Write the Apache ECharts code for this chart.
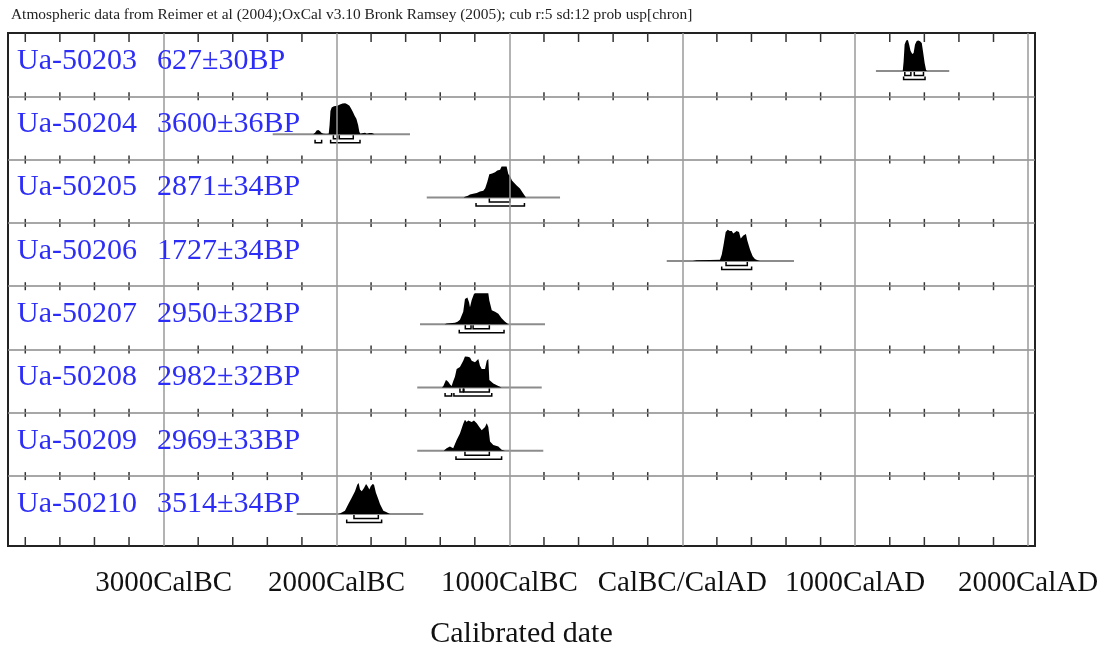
<!DOCTYPE html>
<html>
<head>
<meta charset="utf-8">
<title>OxCal multiplot</title>
<script src="https://cdn.jsdelivr.net/npm/echarts/dist/echarts.min.js"></script>
<style>
  html, body { margin: 0; padding: 0; background: #fff; }
  #oxcal { width: 1109px; height: 649px; }
</style>
</head>
<body>
<div id="oxcal"></div>
<script>
// sample labels
var labIds = ['Ua-50203', 'Ua-50204', 'Ua-50205', 'Ua-50206', 'Ua-50207', 'Ua-50208', 'Ua-50209', 'Ua-50210'];
var bpAges = [627, 3600, 2871, 1727, 2950, 2982, 2969, 3514];
var bpErrors = [30, 36, 34, 34, 32, 32, 33, 34];

// x axis ticks (calendar years, BC negative)
var majorYears = [-3000, -2000, -1000, 0, 1000, 2000];
var majorLabels = ['3000CalBC', '2000CalBC', '1000CalBC', 'CalBC/CalAD', '1000CalAD', '2000CalAD'];

// grey line under each distribution
var plotRanges = [[1120, 1544], [-2369, -1575], [-1478, -707], [-90, 646], [-1517, -794], [-1533, -813], [-1533, -804], [-2230, -1498]];

// 68.2% and 95.4% ranges
var range68 = [
  [[1287, 1322], [1342, 1395]],
  [[-2018, -1995], [-1984, -1903]],
  [[-1116, -997]],
  [[253, 376]],
  [[-1255, -1222], [-1210, -1116]],
  [[-1286, -1267], [-1263, -1116]],
  [[-1257, -1116]],
  [[-1899, -1758]]
];
var range95 = [
  [[1280, 1404]],
  [[-2124, -2086], [-2034, -1864]],
  [[-1193, -913]],
  [[228, 401]],
  [[-1290, -1031]],
  [[-1372, -1334], [-1321, -1102]],
  [[-1309, -1045]],
  [[-1941, -1739]]
];

// probability distributions, [year, relative probability]
var dist50203 = [[1275, 0], [1280, 0.3], [1286, 0.85], [1295, 0.98], [1305, 1.0], [1312, 0.85], [1320, 0.65], [1330, 0.55], [1338, 0.58], [1346, 0.85], [1356, 0.97], [1366, 0.98], [1375, 0.96], [1385, 0.9], [1393, 0.6], [1402, 0.25], [1410, 0.03], [1415, 0]];
var dist50204 = [[-2135, 0], [-2124, 0.05], [-2115, 0.12], [-2105, 0.14], [-2095, 0.1], [-2086, 0.04], [-2075, 0.02], [-2060, 0.01], [-2045, 0.02], [-2040, 0.3], [-2035, 0.75], [-2028, 0.86], [-2015, 0.9], [-2005, 0.91], [-1995, 0.92], [-1980, 0.96], [-1965, 0.99], [-1950, 1.0], [-1940, 0.98], [-1925, 0.92], [-1915, 0.82], [-1905, 0.72], [-1895, 0.6], [-1885, 0.5], [-1875, 0.3], [-1868, 0.08], [-1862, 0.02], [-1845, 0.04], [-1835, 0.05], [-1825, 0.02], [-1810, 0.04], [-1795, 0.04], [-1780, 0]];
var dist50205 = [[-1265, 0], [-1257, 0.03], [-1240, 0.06], [-1228, 0.1], [-1210, 0.12], [-1189, 0.15], [-1170, 0.2], [-1151, 0.22], [-1140, 0.3], [-1128, 0.5], [-1116, 0.75], [-1100, 0.78], [-1083, 0.82], [-1070, 0.87], [-1054, 0.9], [-1045, 1.0], [-1030, 1.0], [-1016, 1.0], [-1006, 0.75], [-997, 0.7], [-985, 0.55], [-977, 0.5], [-958, 0.39], [-939, 0.29], [-920, 0.13], [-904, 0]];
var dist50206 = [[60, 0], [83, 0.02], [160, 0.03], [218, 0.04], [228, 0.2], [237, 0.46], [251, 0.93], [263, 1.0], [275, 0.96], [286, 0.96], [295, 0.88], [305, 0.92], [314, 0.96], [328, 0.93], [338, 0.72], [353, 0.82], [368, 0.87], [376, 0.66], [392, 0.36], [407, 0.15], [420, 0.06], [435, 0.02], [449, 0]];
var dist50207 = [[-1375, 0], [-1363, 0.02], [-1330, 0.04], [-1315, 0.05], [-1300, 0.08], [-1286, 0.14], [-1267, 0.4], [-1257, 0.81], [-1243, 0.86], [-1233, 0.7], [-1228, 0.55], [-1218, 0.78], [-1205, 0.97], [-1199, 1.0], [-1160, 1.0], [-1122, 1.0], [-1116, 0.76], [-1102, 0.45], [-1083, 0.4], [-1064, 0.34], [-1045, 0.19], [-1025, 0.08], [-1006, 0]];
var dist50208 = [[-1390, 0], [-1382, 0.05], [-1367, 0.24], [-1360, 0.22], [-1353, 0.18], [-1343, 0.1], [-1334, 0.05], [-1325, 0.2], [-1315, 0.35], [-1305, 0.6], [-1286, 0.66], [-1267, 0.86], [-1257, 1.0], [-1240, 0.99], [-1228, 0.97], [-1218, 0.86], [-1199, 0.81], [-1180, 0.92], [-1170, 0.7], [-1160, 0.6], [-1141, 0.6], [-1131, 0.86], [-1122, 0.92], [-1116, 0.24], [-1093, 0.13], [-1064, 0.05], [-1045, 0]];
var dist50209 = [[-1380, 0], [-1372, 0.04], [-1363, 0.08], [-1344, 0.14], [-1325, 0.08], [-1305, 0.35], [-1286, 0.56], [-1267, 0.87], [-1257, 1.0], [-1247, 0.93], [-1238, 0.98], [-1218, 0.93], [-1205, 0.98], [-1189, 0.89], [-1174, 0.77], [-1160, 0.66], [-1141, 0.77], [-1131, 0.89], [-1122, 0.77], [-1112, 0.3], [-1093, 0.19], [-1064, 0.14], [-1045, 0.03], [-1025, 0]];
var dist50210 = [[-1990, 0], [-1980, 0.02], [-1951, 0.11], [-1932, 0.32], [-1912, 0.53], [-1893, 0.74], [-1880, 0.95], [-1872, 1.0], [-1864, 0.79], [-1854, 0.74], [-1841, 0.84], [-1829, 0.97], [-1820, 0.9], [-1810, 0.79], [-1802, 0.9], [-1791, 0.97], [-1783, 0.95], [-1772, 0.69], [-1758, 0.48], [-1748, 0.32], [-1729, 0.11], [-1710, 0.06], [-1691, 0]];
var distributions = [dist50203, dist50204, dist50205, dist50206, dist50207, dist50208, dist50209, dist50210];

var X_MIN = -3900, X_MAX = 2040;
var ROWS_MAX = 8.104;      // last row is a bit taller (axis space)
var BASE_OFFSET = 0.6;     // baseline inside a row
var PEAK = 0.49;           // peak height in row units
var SERIF = 'Liberation Serif';

var minorTickYears = [];
for (var y = -3800; y <= 2000; y += 200) {
  if (y % 1000 !== 0) minorTickYears.push(y);
}

function renderTicks(params, api) {
  var yr = api.value(0);
  var children = [];
  for (var b = 0; b <= 8; b++) {
    var yv = b === 8 ? ROWS_MAX : b;
    var p = api.coord([yr, yv]);
    var y1 = p[1] - 4, y2 = p[1] + 4;
    if (b === 0) { y1 = p[1]; y2 = p[1] + 9; }
    if (b === 8) { y1 = p[1] - 9; y2 = p[1]; }
    children.push({
      type: 'line',
      shape: { x1: p[0], y1: y1, x2: p[0], y2: y2 },
      style: { stroke: '#333', lineWidth: 1.5 }
    });
  }
  return { type: 'group', children: children };
}

function bracket(api, a, b, base, top, bottom) {
  var pa = api.coord([a, base]);
  var pb = api.coord([b, base]);
  return {
    type: 'polyline',
    shape: { points: [[pa[0], pa[1] + top], [pa[0], pa[1] + bottom], [pb[0], pb[1] + bottom], [pb[0], pb[1] + top]] },
    style: { stroke: '#000', lineWidth: 1.5, fill: null }
  };
}

function renderSample(params, api) {
  var i = api.value(1);
  var base = i + BASE_OFFSET;
  var l0 = api.coord([plotRanges[i][0], base]);
  var l1 = api.coord([plotRanges[i][1], base]);
  var children = [{
    type: 'line',
    shape: { x1: l0[0], y1: l0[1], x2: l1[0], y2: l1[1] },
    style: { stroke: '#8c8c8c', lineWidth: 2 }
  }];
  var pts = distributions[i].map(function (d) {
    return api.coord([d[0], base - d[1] * PEAK]);
  });
  children.push({ type: 'polygon', shape: { points: pts }, style: { fill: '#000' } });
  range68[i].forEach(function (r) { children.push(bracket(api, r[0], r[1], base, 1, 4.5)); });
  range95[i].forEach(function (r) { children.push(bracket(api, r[0], r[1], base, 5.5, 8.5)); });
  return { type: 'group', children: children };
}

function labelText(text, x, y) {
  return {
    type: 'text',
    x: x,
    y: y,
    style: {
      text: text,
      fill: '#2d2df8',
      fontSize: 30,
      fontFamily: SERIF,
      verticalAlign: 'middle',
      align: 'left'
    }
  };
}

function renderLabel(params, api) {
  var i = api.value(1);
  var p = api.coord([X_MIN, i + 0.44]);
  return {
    type: 'group',
    children: [
      labelText(labIds[i], p[0] + 9, p[1]),
      labelText(bpAges[i] + '\u00b1' + bpErrors[i] + 'BP', p[0] + 149, p[1])
    ]
  };
}

var chart = echarts.init(document.getElementById('oxcal'));
chart.setOption({
  animation: false,
  title: {
    text: 'Atmospheric data from Reimer et al (2004);OxCal v3.10 Bronk Ramsey (2005); cub r:5 sd:12 prob usp[chron]',
    left: 6,
    top: 2,
    textStyle: { fontFamily: SERIF, fontSize: 15.4, fontWeight: 'normal', color: '#222' }
  },
  grid: {
    left: 8, right: 74, top: 33, bottom: 103,
    containLabel: false,
    outerBoundsMode: 'none',
    show: true, borderColor: '#222', borderWidth: 2, backgroundColor: '#fff'
  },
  xAxis: {
    type: 'value',
    min: X_MIN,
    max: X_MAX,
    name: 'Calibrated date',
    nameLocation: 'middle',
    nameGap: 73,
    nameTextStyle: { fontFamily: SERIF, fontSize: 30, color: '#111' },
    axisLine: { show: true, lineStyle: { color: '#222', width: 2 } },
    axisTick: { show: false },
    splitLine: { show: false },
    axisLabel: {
      customValues: majorYears,
      margin: 23,
      fontFamily: SERIF,
      fontSize: 29,
      color: '#111',
      formatter: function (v) {
        var k = majorYears.indexOf(v);
        return k >= 0 ? majorLabels[k] : '';
      }
    }
  },
  yAxis: {
    type: 'value',
    inverse: true,
    min: 0,
    max: ROWS_MAX,
    show: false
  },
  series: [
    {
      type: 'custom',
      name: 'ticks',
      z: 1,
      clip: false,
      renderItem: renderTicks,
      data: minorTickYears.map(function (y) { return [y, 0]; }),
      markLine: {
        silent: true,
        symbol: 'none',
        label: { show: false },
        lineStyle: { color: '#8a8a8a', width: 1.5, type: 'solid' },
        data: [1, 2, 3, 4, 5, 6, 7].map(function (v) { return { yAxis: v }; })
      }
    },
    {
      type: 'custom',
      name: 'samples',
      z: 2,
      clip: false,
      renderItem: renderSample,
      data: plotRanges.map(function (r, i) { return [r[0], i]; })
    },
    {
      type: 'custom',
      name: 'grid',
      z: 3,
      renderItem: function () { return null; },
      data: [],
      markLine: {
        silent: true,
        symbol: 'none',
        label: { show: false },
        lineStyle: { color: '#9a9a9a', width: 1.5, type: 'solid' },
        data: majorYears.map(function (v) { return { xAxis: v }; })
      }
    },
    {
      type: 'custom',
      name: 'labels',
      z: 5,
      clip: false,
      renderItem: renderLabel,
      data: plotRanges.map(function (r, i) { return [r[0], i]; })
    }
  ]
});
</script>
</body>
</html>
